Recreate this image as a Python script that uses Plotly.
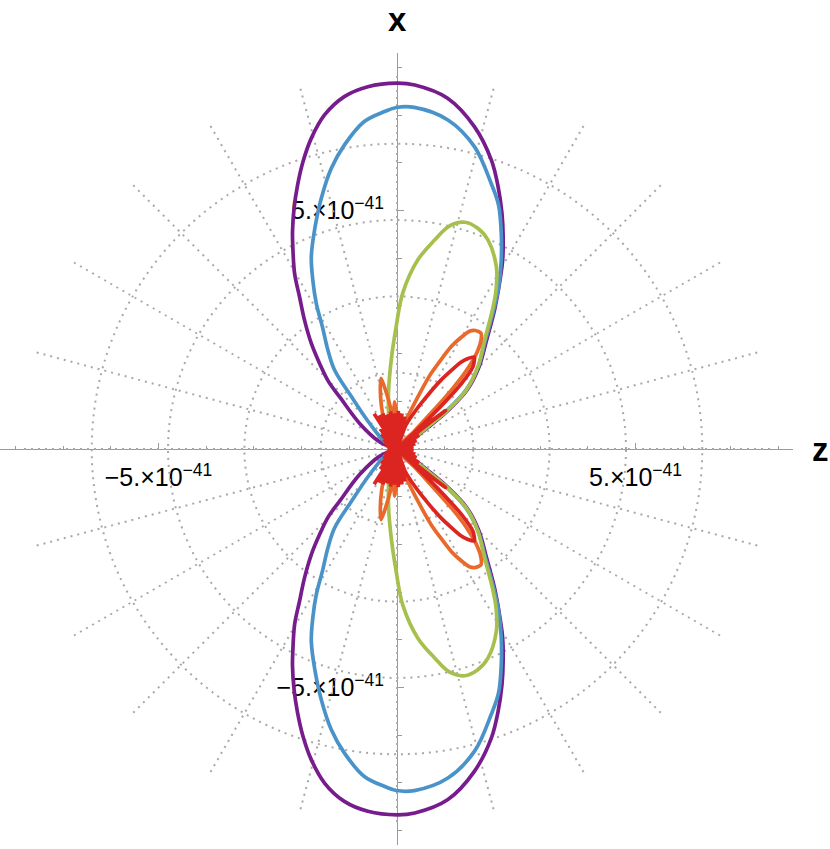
import numpy as np
import plotly.graph_objects as go

# polar pattern, upper half only (angle from +z towards +x, degrees);
# radius in units of 1e-41. The lower half is the mirror image.
purple_theta = [29, 31.8, 34.9, 37.1, 40.1, 45, 50.6, 54.95, 58.3, 60.8, 63.4, 66, 68.9, 71.9, 76.5, 81.8,
                87.2, 90, 94.6, 98.5, 102.2, 105.4, 108.1, 110.65, 113.14, 115.71, 117.25, 120.26, 122.63,
                125.64, 129.07, 132.13, 135.4, 137.7, 145.6, 157.4, 164]
purple_r = [0, 0.36, 0.81, 1.35, 1.92, 2.43, 2.96, 3.56, 4.09, 4.54, 4.97, 5.41, 5.89, 6.37, 6.95, 7.43,
            7.64, 7.67, 7.62, 7.47, 7.17, 6.76, 6.34, 5.91, 5.49, 5.05, 4.77, 4.26, 3.79,
            3.33, 2.85, 2.42, 2.02, 1.63, 0.95, 0.40, 0]

blue_theta = [31, 33.7, 35.8, 37.7, 40.5, 45.35, 50.9, 55.2, 57.9, 60.9, 64.0, 67.4, 70.5, 75.6, 81.2,
              87.1, 90.1, 92.1, 95.7, 99.8, 103.2, 106.8, 110.6, 114.04, 116.48, 119.01, 121.41, 124.95,
              128.35, 130.95, 136.9, 152, 160]
blue_r = [0, 0.34, 0.79, 1.34, 1.90, 2.42, 2.94, 3.55, 4.01, 4.49, 4.99, 5.54, 5.91, 6.54, 6.98,
          7.17, 7.16, 7.08, 6.90, 6.47, 6.04, 5.49, 4.91, 4.41, 3.96, 3.49, 3.00, 2.53,
          2.11, 1.47, 0.79, 0.26, 0]

green_theta = [30, 32.4, 35.9, 37.5, 40.4, 45.5, 51.2, 55.5, 58.1, 61.4, 66.5, 70.0, 73.4, 76.8, 79.8,
               83.7, 87.9, 90.4, 93.7, 98.7, 106.3, 113]
green_r = [0, 0.35, 0.80, 1.34, 1.91, 2.42, 2.93, 3.53, 3.93, 4.35, 4.78, 4.93, 4.96, 4.80, 4.45,
           3.99, 3.27, 2.56, 1.87, 1.18, 0.56, 0]

orange_theta = [45.3, 46, 46.6, 47.3, 48.5, 50.5, 52.5, 54.1, 56.5, 58.4, 60.3, 62.1, 65.7, 69, 73.7, 78, 81,
                88, 91, 93, 95, 97, 99, 102.6, 105, 110, 116, 122,
                126, 130, 134, 142, 150, 158]
orange_r = [0, 0.52, 1.05, 1.68, 2.2, 2.65, 2.9, 3.0, 2.98, 2.9, 2.68, 2.43, 1.74, 1.03, 0.56, 0.25, 0,
            0, 0.75, 0.99, 0.7, 0, 0.9, 1.52, 1.35, 0.95, 0.55, 0,
            0.45, 0, 0.35, 0, 0.25, 0]

red_theta = [0, 4, 8, 12, 16, 20, 24, 28, 32, 35.5, 38.5, 41, 42.8,
             43.4, 44.2, 45.5, 47.3, 49.9, 52, 53.7, 57.4, 62.1, 66, 70, 73,
             76, 79, 82, 85, 88, 91, 94, 97, 100, 103, 106, 109, 112, 115, 118, 120.5, 123, 126,
             130, 133.5, 137, 141, 145, 149, 153, 157, 161, 165, 169, 173, 177, 180]
red_r = [0.35, 0, 0.35, 0, 0.4, 0, 0.45, 0, 0.55, 0, 1.3, 0.5, 0,
         0.6, 1.3, 1.95, 2.35, 2.52, 2.4, 2.25, 1.72, 1.08, 0.75, 0.5, 0,
         0.7, 0, 0.75, 0, 0.8, 0, 0.75, 0, 0.8, 0, 0.75, 0, 0.8, 0, 0.8, 0, 0.88, 0,
         0.55, 0, 0.45, 0, 0.35, 0, 0.3, 0, 0.25, 0, 0.2, 0, 0.15, 0]

curve_colors = ["#761c8c", "#4993c8", "#a7c04d", "#e8692a", "#dc2420"]
curve_smoothing = [1.0, 1.0, 1.0, 0.6, 0.5]
grid_r = [1.6, 3.2, 4.8, 6.4]

W, H = 830, 849
PX = 47.7          # pixels per 1e-41
CX, CY = 397, 449  # origin in pixels from top-left
R_PX = 376         # length of the polar spokes
FONT = "Liberation Sans, Arial, sans-serif"


def mirrored(theta, r):
    th = np.asarray(theta, float)
    rr = np.asarray(r, float)
    return np.concatenate([th, -th[::-1]]), np.concatenate([rr, rr[::-1]])


fig = go.Figure()

# invisible trace so the cartesian axes get drawn
fig.add_trace(go.Scatter(x=[0], y=[0], mode="markers", marker=dict(opacity=0),
                         hoverinfo="skip", showlegend=False))

series = [(purple_theta, purple_r), (blue_theta, blue_r), (green_theta, green_r),
          (orange_theta, orange_r), (red_theta, red_r)]
for (th, rr), col, sm in zip(series, curve_colors, curve_smoothing):
    t, r = mirrored(th, rr)
    fig.add_trace(go.Scatterpolar(theta=t, r=r, mode="lines", subplot="polar",
                                  line=dict(color=col, width=3.7, shape="spline", smoothing=sm),
                                  showlegend=False, hoverinfo="skip"))

grid_style = dict(gridcolor="#a8a8a8", griddash="2px,5px", gridwidth=1.8)
tick_font = dict(family=FONT, size=25, color="black")
lab_neg = "\u22125.\u00d710<sup>\u221241</sup>"
lab_pos = "5.\u00d710<sup>\u221241</sup>"

axis_common = dict(showgrid=False, zeroline=False, showline=True, linecolor="#9a9a9a", linewidth=1,
                   ticks="inside", ticklen=6, tickcolor="#9a9a9a", tickwidth=1,
                   tickvals=[-5, 5], ticktext=[lab_neg, lab_pos], tickfont=tick_font,
                   minor=dict(dtick=1, tick0=0, ticks="inside", ticklen=3.5, tickcolor="#9a9a9a", showgrid=False),
                   anchor="free")

fig.update_layout(
    width=W, height=H,
    margin=dict(l=0, r=0, t=0, b=0),
    paper_bgcolor="white", plot_bgcolor="white",
    showlegend=False,
    xaxis=dict(domain=[0, (2 * CX - 1) / W], range=[-CX / PX, (CX - 1) / PX],
               position=(H - CY) / H, ticklabelstandoff=6, **axis_common),
    yaxis=dict(domain=[4 / H, 796 / H], range=[-(845 - CY) / PX, (CY - 53) / PX],
               position=CX / W, ticklabelstandoff=8, **axis_common),
    polar=dict(
        domain=dict(x=[(CX - R_PX) / W, (CX + R_PX) / W],
                    y=[(H - CY - R_PX) / H, (H - CY + R_PX) / H]),
        bgcolor="rgba(0,0,0,0)",
        radialaxis=dict(range=[0, R_PX / PX], tickvals=grid_r, showticklabels=False, ticks="",
                        showline=False, **grid_style),
        angularaxis=dict(rotation=0, direction="counterclockwise", tickmode="linear", tick0=0, dtick=15,
                         showticklabels=False, ticks="", showline=False, **grid_style),
    ),
    annotations=[
        dict(text="<b>x</b>", x=CX / W, y=1 - 20 / H, xref="paper", yref="paper", showarrow=False,
             xanchor="center", yanchor="middle", font=dict(family=FONT, size=33, color="black")),
        dict(text="<b>z</b>", x=820 / W, y=1 - 449 / H, xref="paper", yref="paper", showarrow=False,
             xanchor="center", yanchor="middle", font=dict(family=FONT, size=33, color="black")),
    ],
)

fig.write_html("out.html", config={"displayModeBar": False},
               post_script="document.body.style.margin='0';")
